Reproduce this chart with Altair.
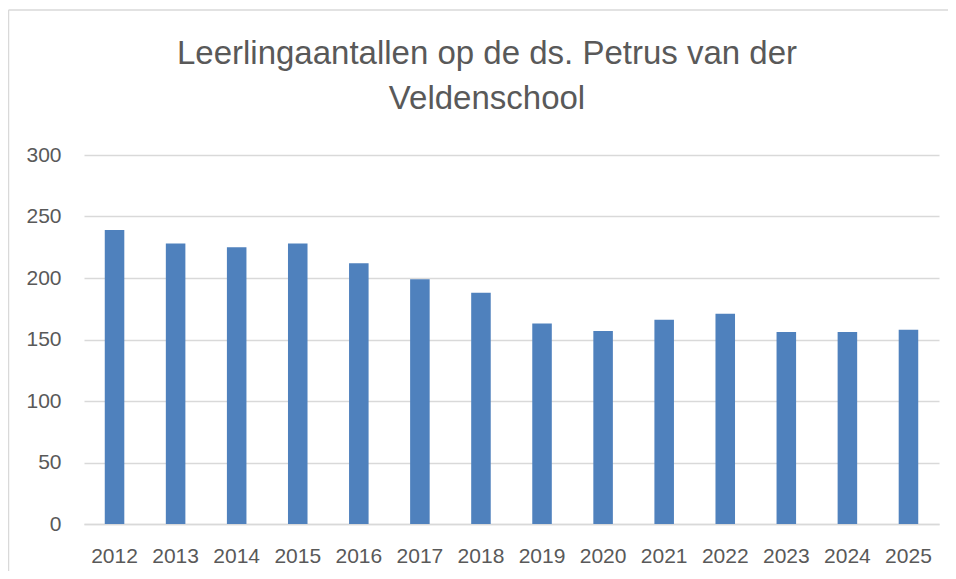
import altair as alt
import pandas as pd

years = ["2012", "2013", "2014", "2015", "2016", "2017", "2018",
         "2019", "2020", "2021", "2022", "2023", "2024", "2025"]
counts = [239, 228, 225, 228, 212, 199, 188, 163, 157, 166, 171, 156, 156, 158]
y_ticks = [0, 50, 100, 150, 200, 250, 300]
title_lines = ["Leerlingaantallen op de ds. Petrus van der", "Veldenschool"]

FONT = "Liberation Sans"
TEXT = "#595959"
GRID = "#D9D9D9"

df = pd.DataFrame({"jaar": years, "leerlingen": counts})

bars = alt.Chart(df).mark_bar(color="#4F81BD").encode(
    x=alt.X(
        "jaar:N",
        sort=years,
        scale=alt.Scale(paddingInner=0.68, paddingOuter=0.34),
        axis=alt.Axis(
            title=None, labelAngle=0, ticks=False, grid=False,
            domain=True, domainColor=GRID, domainWidth=1.5,
            labelFont=FONT, labelFontSize=21, labelColor=TEXT,
            labelPadding=21,
        ),
    ),
    y=alt.Y(
        "leerlingen:Q",
        scale=alt.Scale(domain=[0, 300], nice=False),
        axis=alt.Axis(
            title=None, values=y_ticks, domain=False, ticks=False,
            grid=True, gridColor=GRID, gridWidth=1.3,
            labelFont=FONT, labelFontSize=21, labelColor=TEXT,
            labelPadding=23,
        ),
    ),
)

one = pd.DataFrame({"k": [0]})

border_top = alt.Chart(one).mark_rule(color=GRID, strokeWidth=1.5).encode(
    x=alt.value(-75.5), x2=alt.value(900), y=alt.value(-145),
)
border_left = alt.Chart(one).mark_rule(color=GRID, strokeWidth=1.5).encode(
    x=alt.value(-75.5), y=alt.value(-145), y2=alt.value(1000),
)

title = alt.Chart(one).mark_text(
    font=FONT, fontSize=33, color=TEXT, align="center",
    baseline="alphabetic", lineHeight=45, lineBreak="\n",
).encode(
    x=alt.value(403), y=alt.value(-90.7),
    text=alt.value("\n".join(title_lines)),
)

chart = alt.layer(border_top, border_left, bars, title).properties(
    width=855,
    height=369,
    padding={"left": 76, "top": 147, "right": 9, "bottom": 47},
    autosize=alt.AutoSizeParams(type="none"),
).configure_view(strokeWidth=0)

chart.save("out.html", embed_options={"renderer": "svg", "actions": False})
